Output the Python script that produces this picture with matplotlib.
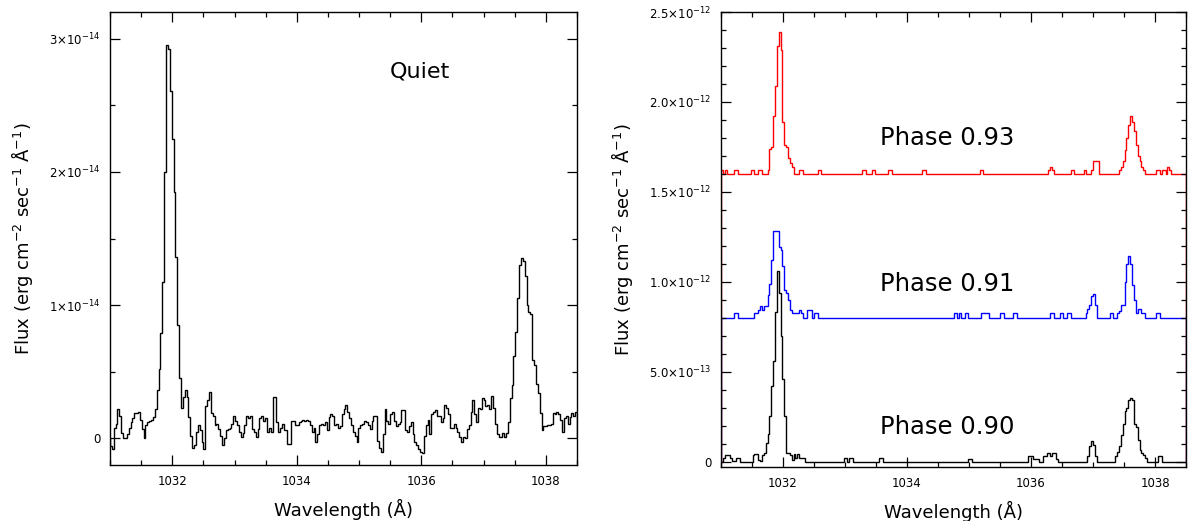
import numpy as np
import matplotlib
matplotlib.use("Agg")
import matplotlib.pyplot as plt
from matplotlib.ticker import MultipleLocator

# wavelength grid (Angstrom): bins of 0.03 from 1031.0 to 1038.5
wave_start = 1031.0
bin_width = 0.03
n_bins = 250

# Left panel: quiet spectrum, in units of 1e-14 erg cm-2 s-1 A-1
quiet_flux = [
    -0.06, -0.08, 0.08, 0.11, 0.22, 0.17, 0.04, 0.00, 0.00, 0.03,
    0.08, 0.12, 0.15, 0.19, 0.19, 0.20, 0.14, 0.07, 0.00, 0.10,
    0.12, 0.13, 0.14, 0.16, 0.22, 0.36, 0.52, 0.79, 1.17, 2.00,
    2.95, 2.92, 2.61, 2.25, 1.85, 1.36, 0.85, 0.45, 0.23, 0.31,
    0.36, 0.31, 0.16, 0.02, -0.07, -0.05, 0.05, 0.10, 0.06, -0.03,
    -0.08, 0.24, 0.29, 0.35, 0.19, 0.17, 0.10, 0.11, 0.07, 0.02,
    -0.05, 0.00, 0.06, 0.07, 0.08, 0.11, 0.17, 0.13, 0.10, 0.05,
    0.01, 0.04, 0.10, 0.17, 0.15, 0.17, 0.07, 0.05, 0.01, 0.07,
    0.15, 0.17, 0.13, 0.15, 0.05, 0.08, 0.05, 0.31, 0.31, 0.12,
    0.05, 0.08, 0.11, 0.06, 0.06, -0.04, -0.04, 0.13, 0.13, 0.10,
    0.10, 0.12, 0.13, 0.14, 0.13, 0.14, 0.13, 0.10, 0.05, 0.08,
    -0.03, 0.03, 0.10, 0.11, 0.10, 0.12, 0.06, 0.16, 0.18, 0.17,
    0.10, 0.11, 0.08, 0.09, 0.18, 0.22, 0.25, 0.20, 0.15, 0.10,
    0.05, 0.02, -0.03, 0.08, 0.10, 0.11, 0.13, 0.12, 0.10, 0.07,
    0.13, 0.17, 0.17, -0.02, -0.07, -0.10, 0.03, 0.22, 0.13, 0.11,
    0.18, 0.20, 0.13, 0.09, 0.11, 0.12, 0.21, 0.21, 0.06, 0.05,
    0.09, 0.12, 0.03, -0.03, -0.05, -0.08, -0.10, -0.11, 0.02, 0.10,
    0.14, 0.03, 0.18, 0.20, 0.21, 0.17, 0.17, 0.12, 0.15, 0.25,
    0.23, 0.18, 0.08, 0.08, 0.11, 0.08, 0.05, 0.01, -0.03, 0.01,
    0.00, 0.07, 0.10, 0.20, 0.29, 0.18, 0.12, 0.23, 0.22, 0.30,
    0.29, 0.24, 0.25, 0.22, 0.32, 0.23, 0.11, 0.03, 0.01, 0.01,
    0.04, 0.01, 0.04, 0.12, 0.30, 0.40, 0.62, 0.80, 1.05, 1.30,
    1.35, 1.33, 1.22, 1.00, 0.95, 0.93, 0.59, 0.55, 0.41, 0.34,
    0.19, 0.06, 0.09, 0.09, 0.10, 0.10, 0.11, 0.19, 0.18, 0.20,
    0.18, 0.14, 0.05, 0.15, 0.17, 0.11, 0.16, 0.19, 0.17, 0.20,
]

# Right panel: three phases, in units of 1e-12 (before vertical offset)
phase_090 = [
    0, 0.02, 0.035, 0.035, 0.035, 0.02, 0.005, 0.005, 0.02, 0.02,
    0, 0, 0, 0, 0, 0, 0, 0.035, 0.045, 0.045,
    0.01, 0.005, 0.035, 0.05, 0.105, 0.155, 0.255, 0.42, 0.56, 0.83,
    1.06, 0.94, 0.70, 0.46, 0.255, 0.05, 0.05, 0.035, 0.01, 0.045,
    0.02, 0.045, 0.02, 0.02, 0.02, 0, 0, 0, 0, 0,
    0, 0, 0, 0, 0, 0, 0, 0, 0, 0,
    0, 0, 0, 0, 0, 0, 0.02, 0.02, 0, 0.02,
    0.02, 0, 0, 0, 0, 0, 0, 0, 0, 0,
    0, 0, 0, 0, 0, 0.02, 0.02, 0, 0, 0,
    0, 0, 0, 0, 0, 0, 0, 0, 0, 0,
    0, 0, 0, 0, 0, 0, 0, 0, 0, 0,
    0, 0, 0, 0, 0, 0, 0, 0, 0, 0,
    0, 0, 0, 0, 0, 0, 0, 0, 0, 0,
    0, 0, 0, 0.015, 0.015, 0, 0, 0, 0, 0,
    0, 0, 0, 0, 0, 0, 0, 0, 0, 0,
    0, 0, 0, 0, 0, 0, 0, 0, 0, 0,
    0, 0, 0, 0, 0, 0.03, 0.03, 0.03, 0.012, 0.012,
    0.012, 0, 0, 0.03, 0.03, 0.05, 0.05, 0.03, 0.05, 0.05,
    0.012, 0, 0, 0, 0, 0, 0, 0, 0, 0,
    0, 0, 0, 0, 0, 0, 0, 0.03, 0.085, 0.115,
    0.09, 0.03, 0, 0, 0, 0, 0, 0, 0, 0,
    0, 0, 0.03, 0.055, 0.085, 0.15, 0.21, 0.28, 0.30, 0.34,
    0.355, 0.34, 0.21, 0.19, 0.12, 0.065, 0.05, 0.035, 0.02, 0,
    0, 0, 0, 0, 0, 0.03, 0.03, 0, 0, 0,
    0, 0, 0, 0, 0, 0, 0, 0, 0, 0,
]

phase_091 = [
    0, 0, 0, 0, 0, 0, 0, 0.025, 0.025, 0,
    0, 0, 0, 0, 0, 0, 0, 0, 0.025, 0.025,
    0.045, 0.065, 0.045, 0.065, 0.065, 0.125, 0.19, 0.32, 0.485, 0.485,
    0.485, 0.395, 0.375, 0.285, 0.155, 0.14, 0.10, 0.045, 0.025, 0.025,
    0.025, 0.025, 0.045, 0.025, 0, 0, 0.045, 0.045, 0.045, 0,
    0.025, 0.025, 0, 0, 0, 0, 0, 0, 0, 0,
    0, 0, 0, 0, 0, 0, 0, 0, 0, 0,
    0, 0, 0, 0, 0, 0, 0, 0, 0, 0,
    0, 0, 0, 0, 0, 0, 0, 0, 0, 0,
    0, 0, 0, 0, 0, 0, 0, 0, 0, 0,
    0, 0, 0, 0, 0, 0, 0, 0, 0, 0,
    0, 0, 0, 0, 0, 0, 0, 0, 0, 0,
    0, 0, 0, 0, 0, 0.025, 0.025, 0, 0.025, 0,
    0, 0.025, 0.025, 0, 0, 0, 0, 0, 0, 0,
    0.025, 0.025, 0.025, 0.025, 0, 0, 0, 0, 0, 0,
    0.025, 0.025, 0, 0, 0, 0, 0, 0.025, 0.025, 0,
    0, 0, 0, 0, 0, 0, 0, 0, 0, 0,
    0, 0, 0, 0, 0, 0, 0, 0.025, 0.025, 0,
    0, 0, 0.025, 0.025, 0, 0, 0.025, 0.025, 0, 0,
    0, 0, 0, 0, 0, 0, 0.025, 0.05, 0.07, 0.12,
    0.13, 0.07, 0, 0, 0, 0, 0, 0, 0, 0.025,
    0.025, 0, 0, 0.025, 0.04, 0.07, 0.07, 0.20, 0.30, 0.345,
    0.30, 0.18, 0.10, 0.025, 0.05, 0.05, 0.025, 0.025, 0, 0,
    0, 0, 0, 0, 0.025, 0.025, 0, 0, 0, 0,
    0, 0, 0, 0, 0, 0, 0, 0, 0, 0,
]

phase_093 = [
    0.02, 0, 0.02, 0, 0, 0, 0, 0.02, 0.02, 0,
    0, 0, 0, 0, 0, 0, 0.02, 0.02, 0, 0,
    0.02, 0.02, 0, 0, 0, 0.02, 0.14, 0.15, 0.32, 0.49,
    0.71, 0.79, 0.69, 0.29, 0.16, 0.15, 0.09, 0.06, 0.04, 0,
    0, 0, 0.02, 0.02, 0, 0, 0, 0, 0, 0,
    0, 0, 0.02, 0.02, 0, 0, 0, 0, 0, 0,
    0, 0, 0, 0, 0, 0, 0, 0, 0, 0,
    0, 0, 0, 0, 0, 0, 0.02, 0.02, 0, 0,
    0, 0.02, 0.02, 0, 0, 0, 0, 0, 0, 0,
    0.02, 0.02, 0, 0, 0, 0, 0, 0, 0, 0,
    0, 0, 0, 0, 0, 0, 0, 0, 0.02, 0.02,
    0, 0, 0, 0, 0, 0, 0, 0, 0, 0,
    0, 0, 0, 0, 0, 0, 0, 0, 0, 0,
    0, 0, 0, 0, 0, 0, 0, 0, 0, 0.02,
    0.02, 0, 0, 0, 0, 0, 0, 0, 0, 0,
    0, 0, 0, 0, 0, 0, 0, 0, 0, 0,
    0, 0, 0, 0, 0, 0, 0, 0, 0, 0,
    0, 0, 0, 0, 0, 0, 0.02, 0.04, 0.02, 0,
    0, 0, 0, 0, 0, 0, 0, 0, 0.02, 0.02,
    0, 0, 0, 0, 0, 0.02, 0, 0, 0, 0.02,
    0.07, 0.07, 0.07, 0, 0, 0, 0, 0, 0, 0,
    0, 0, 0, 0, 0.02, 0.04, 0.07, 0.13, 0.20, 0.27,
    0.32, 0.29, 0.24, 0.16, 0.10, 0.07, 0.04, 0.02, 0, 0,
    0, 0, 0, 0, 0.02, 0.02, 0, 0.02, 0.02, 0,
    0.04, 0.02, 0, 0, 0, 0, 0, 0, 0, 0,
]

phase_names = ["Phase 0.90", "Phase 0.91", "Phase 0.93"]
phase_offsets = [0.0, 0.8, 1.6]  # 1e-12
phase_colors = ["black", "blue", "red"]
phase_label_y = [0.19, 0.99, 1.80]  # 1e-12

left_yticks = [0, 1e-14, 2e-14, 3e-14]
left_ytick_labels = ["0", r"1$\times$10$^{-14}$", r"2$\times$10$^{-14}$", r"3$\times$10$^{-14}$"]
right_yticks = [0, 0.5e-12, 1.0e-12, 1.5e-12, 2.0e-12, 2.5e-12]
right_ytick_labels = ["0", r"5.0$\times$10$^{-13}$", r"1.0$\times$10$^{-12}$",
                      r"1.5$\times$10$^{-12}$", r"2.0$\times$10$^{-12}$", r"2.5$\times$10$^{-12}$"]
xticks = [1032, 1034, 1036, 1038]

edges = wave_start + bin_width * np.arange(n_bins + 1)

fig = plt.figure(figsize=(11.88, 5.21), dpi=100)
ax1 = fig.add_axes([110 / 1188, 1 - 465 / 521, 467 / 1188, 453 / 521])
ax2 = fig.add_axes([721 / 1188, 1 - 467 / 521, 465 / 1188, 455 / 521])

ylabel = r"Flux (erg cm$^{-2}$ sec$^{-1}$ $\mathrm{\AA}^{-1}$)"


def style_axes(ax):
    ax.set_xlim(1031, 1038.5)
    ax.set_xticks(xticks)
    ax.set_xticklabels([str(t) for t in xticks])
    ax.xaxis.set_minor_locator(MultipleLocator(0.5))
    ax.tick_params(which="both", direction="in", top=True, right=True,
                   width=0.9, labelsize=8.5, pad=7)
    ax.tick_params(which="major", length=7)
    ax.tick_params(which="minor", length=3.5)
    for s in ax.spines.values():
        s.set_linewidth(1.0)
    ax.set_xlabel("Wavelength (Å)", fontsize=13, labelpad=8)
    ax.set_ylabel(ylabel, fontsize=13, labelpad=10)


# left: quiet
ax1.stairs(np.array(quiet_flux) * 1e-14, edges, color="black", lw=1.0)
ax1.set_ylim(-0.2e-14, 3.2e-14)
ax1.set_yticks(left_yticks)
ax1.set_yticklabels(left_ytick_labels)
ax1.yaxis.set_minor_locator(MultipleLocator(0.5e-14))
style_axes(ax1)
ax1.text(0.664, 0.868, "Quiet", transform=ax1.transAxes, fontsize=16,
         ha="center", va="center")

# right: phases with offsets
for flux, off, col, name, ly in zip([phase_090, phase_091, phase_093], phase_offsets,
                                    phase_colors, phase_names, phase_label_y):
    ax2.stairs((np.array(flux) + off) * 1e-12, edges, color=col, lw=1.0)
    ax2.text(1034.65, ly * 1e-12, name, fontsize=17.5, ha="center", va="center")

ax2.set_ylim(-0.03e-12, 2.5e-12)
ax2.set_yticks(right_yticks)
ax2.set_yticklabels(right_ytick_labels)
ax2.yaxis.set_minor_locator(MultipleLocator(0.1e-12))
style_axes(ax2)

fig.savefig("out.png", dpi=100)
